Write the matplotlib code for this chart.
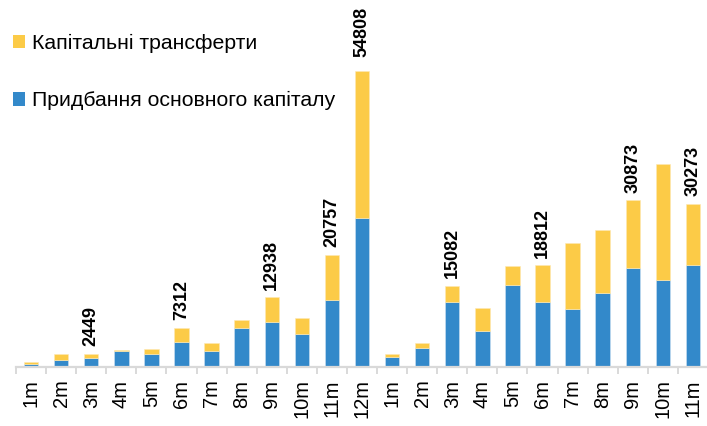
import matplotlib
matplotlib.use("Agg")
import matplotlib.pyplot as plt
from matplotlib.patches import Patch
import numpy as np

plt.rcParams['font.family'] = ['Liberation Sans', 'DejaVu Sans']

categories = ["1m", "2m", "3m", "4m", "5m", "6m", "7m", "8m", "9m", "10m", "11m", "12m",
              "1m", "2m", "3m", "4m", "5m", "6m", "7m", "8m", "9m", "10m", "11m"]
fixed_capital = [550, 1370, 1740, 2960, 2400, 4630, 2960, 7300, 8330, 6050, 12350, 27670,
                 1850, 3520, 11980, 6740, 15130, 12040, 10810, 13710, 18400, 16180, 18890]
capital_transfers = [350, 1030, 709, 260, 880, 2682, 1430, 1400, 4608, 3100, 8407, 27138,
                     550, 1000, 3102, 4190, 3570, 6772, 12090, 11740, 12473, 21490, 11383]
total_labels = [None, None, "2449", None, None, "7312", None, None, "12938", None, "20757", "54808",
                None, None, "15082", None, None, "18812", None, None, "30873", None, "30273"]

blue = "#3389CA"
yellow = "#FCCB47"

fig = plt.figure(figsize=(7.07, 4.26), dpi=100)
ax = fig.add_axes([16/707, 59/426, 692/707, 367/426])

x = np.arange(len(categories))
w = 0.48
ax.bar(x, fixed_capital, width=w, color=blue, edgecolor="#cfe3f3", linewidth=0.4)
ax.bar(x, capital_transfers, width=w, bottom=fixed_capital, color=yellow,
       edgecolor="#fde9b5", linewidth=0.4)

totals = np.array(fixed_capital) + np.array(capital_transfers)
for xi, t, lab in zip(x, totals, total_labels):
    if lab is not None:
        off = 10 if t > 50000 else 5.5
        ax.annotate(lab, (xi, t), xytext=(0, off), textcoords="offset points",
                    rotation=90, ha="center", va="bottom", fontsize=13,
                    fontweight="bold", color="black")

ax.set_xlim(-0.5, len(categories) - 0.5)
ax.set_ylim(0, 68000)
ax.set_yticks([])
for s in ["top", "right", "left"]:
    ax.spines[s].set_visible(False)
ax.spines["bottom"].set_color("#d9d9d9")
ax.spines["bottom"].set_linewidth(1.6)

ax.set_xticks(x)
ax.set_xticklabels(categories, rotation=90, fontsize=14.5, va="top", ha="center")
ax.tick_params(axis="x", which="major", length=0, pad=9)
ax.set_xticks(np.arange(-0.5, len(categories)), minor=True)
ax.tick_params(axis="x", which="minor", length=5, width=1.4, color="#d9d9d9", direction="out")

handles = [Patch(facecolor=yellow, edgecolor="none", label="Капітальні трансферти"),
           Patch(facecolor=blue, edgecolor="none", label="Придбання основного капіталу")]
fig.legend(handles=handles, loc="upper left", bbox_to_anchor=(4/707, 0.94),
           frameon=False, fontsize=15.3, handlelength=0.6, handleheight=0.6,
           handletextpad=0.3, labelspacing=1.8, borderaxespad=0)

fig.savefig("out.png", dpi=100)
